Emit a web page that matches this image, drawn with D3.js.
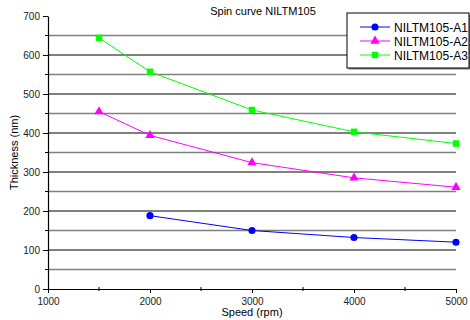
<!DOCTYPE html>
<html>
<head>
<meta charset="utf-8">
<script src="https://cdn.jsdelivr.net/npm/d3@7"></script>
<style>
  body { margin: 0; background: #fff; }
  #chart { width: 470px; height: 320px; }
  text { font-family: "Liberation Sans", Arial, sans-serif; }
</style>
</head>
<body>
<div id="chart"></div>
<script>
// Spin curve data (thickness in nm vs spin speed in rpm)
const seriesNames = ["NILTM105-A1", "NILTM105-A2", "NILTM105-A3"];
const speedsA1 = [2000, 3000, 4000, 5000];
const valuesA1 = [188, 150, 132, 120];
const speedsA2 = [1500, 2000, 3000, 4000, 5000];
const valuesA2 = [455, 394, 324, 285, 261];
const speedsA3 = [1500, 2000, 3000, 4000, 5000];
const valuesA3 = [644, 557, 459, 403, 373];
const xTicks = [1000, 2000, 3000, 4000, 5000];
const yTicks = [0, 100, 200, 300, 400, 500, 600, 700];

const series = [
  { name: seriesNames[0], color: "#0000ff", shape: "circle", pts: speedsA1.map((s, i) => [s, valuesA1[i]]) },
  { name: seriesNames[1], color: "#ff00ff", shape: "triangle", pts: speedsA2.map((s, i) => [s, valuesA2[i]]) },
  { name: seriesNames[2], color: "#00ff00", shape: "square", pts: speedsA3.map((s, i) => [s, valuesA3[i]]) }
];

const W = 470, H = 320;
const M = { t: 16, r: 14, b: 31, l: 48 };

const svg = d3.select("#chart").append("svg").attr("width", W).attr("height", H);

const x = d3.scaleLinear().domain([1000, 5000]).range([M.l, W - M.r]);
const y = d3.scaleLinear().domain([0, 700]).range([H - M.b, M.t]);

// grid lines: black at 100s, grey at the 50s
const gridVals = d3.range(50, 700, 50);
svg.append("g").selectAll("line")
  .data(gridVals)
  .enter().append("line")
  .attr("x1", x(1000)).attr("x2", x(5000))
  .attr("y1", d => y(d)).attr("y2", d => y(d))
  .attr("stroke", d => d % 100 === 0 ? "#000" : "#808080")
  .attr("stroke-width", d => d % 100 === 0 ? 1 : 1.6);

// axes
const xAxis = svg.append("g")
  .attr("transform", `translate(0, ${y(0)})`)
  .call(d3.axisBottom(x).tickValues(xTicks).tickFormat(d3.format("d")).tickSize(4).tickSizeOuter(0));
svg.append("g").selectAll("line")
  .data([1500, 2500, 3500, 4500])
  .enter().append("line")
  .attr("x1", d => x(d)).attr("x2", d => x(d))
  .attr("y1", y(0) - 2).attr("y2", y(0) + 2)
  .attr("stroke", "#000");

const yAxis = svg.append("g")
  .attr("transform", `translate(${x(1000)}, 0)`)
  .call(d3.axisLeft(y).tickValues(yTicks).tickSize(5).tickSizeOuter(0));
svg.append("g").selectAll("line")
  .data(d3.range(50, 700, 100))
  .enter().append("line")
  .attr("x1", x(1000) - 3).attr("x2", x(1000))
  .attr("y1", d => y(d)).attr("y2", d => y(d))
  .attr("stroke", "#000");

[xAxis, yAxis].forEach(a => {
  a.select(".domain").attr("stroke", "#000").attr("stroke-width", 1.2);
  a.selectAll(".tick line").attr("stroke", "#000");
  a.selectAll("text").attr("font-size", "10px").attr("fill", "#222");
});
xAxis.selectAll("text").attr("dy", "0.9em");

// lines and markers
const line = d3.line().x(d => x(d[0])).y(d => y(d[1]));
const sym = { circle: d3.symbolCircle, triangle: d3.symbolTriangle, square: d3.symbolSquare };
const symSize = { circle: 40, triangle: 38, square: 42 };

series.forEach(s => {
  svg.append("path")
    .datum(s.pts)
    .attr("d", line)
    .attr("fill", "none")
    .attr("stroke", s.color)
    .attr("stroke-width", 1);
  svg.append("g").selectAll("path")
    .data(s.pts)
    .enter().append("path")
    .attr("transform", d => `translate(${x(d[0])}, ${y(d[1])})`)
    .attr("d", d3.symbol().type(sym[s.shape]).size(symSize[s.shape]))
    .attr("fill", s.color);
});

// title and labels
svg.append("text")
  .attr("x", 263).attr("y", 15)
  .attr("text-anchor", "middle")
  .attr("font-size", "11px")
  .text("Spin curve NILTM105");

svg.append("text")
  .attr("x", x(3000)).attr("y", 316)
  .attr("text-anchor", "middle")
  .attr("font-size", "11px")
  .text("Speed (rpm)");

svg.append("text")
  .attr("transform", `translate(18, ${y(350)}) rotate(-90)`)
  .attr("text-anchor", "middle")
  .attr("font-size", "11px")
  .text("Thickness (nm)");

// legend
const legend = svg.append("g").attr("transform", "translate(347, 13)");
legend.append("rect")
  .attr("x", 1.5).attr("y", 1.5)
  .attr("width", 122).attr("height", 55)
  .attr("fill", "#808080");
legend.append("rect")
  .attr("width", 122).attr("height", 55)
  .attr("fill", "#fff")
  .attr("stroke", "#000").attr("stroke-width", 1);

series.forEach((s, i) => {
  const row = legend.append("g").attr("transform", `translate(0, ${14 + i * 14})`);
  row.append("line")
    .attr("x1", 13).attr("x2", 43)
    .attr("stroke", s.color).attr("stroke-width", 1);
  row.append("path")
    .attr("transform", "translate(28, 0)")
    .attr("d", d3.symbol().type(sym[s.shape]).size(symSize[s.shape]))
    .attr("fill", s.color);
  row.append("text")
    .attr("x", 47).attr("y", 4.5)
    .attr("font-size", "12px")
    .text(s.name);
});
</script>
</body>
</html>
